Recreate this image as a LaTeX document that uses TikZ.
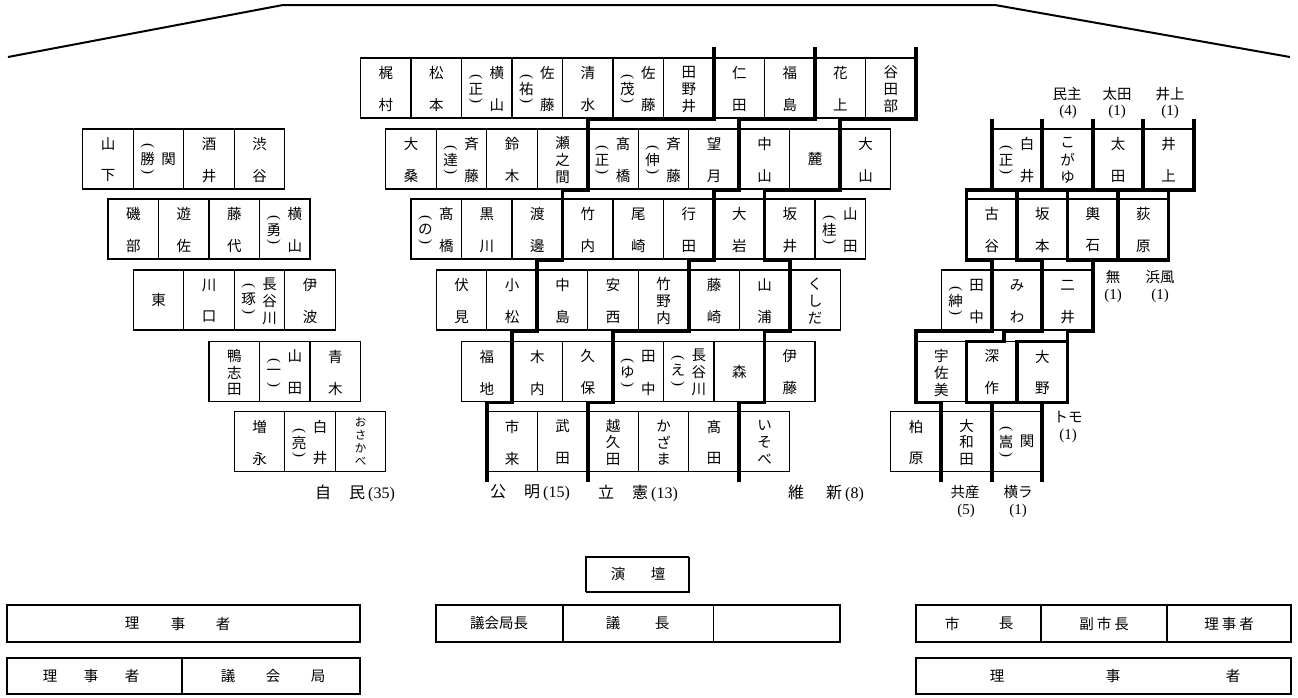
\documentclass[tikz,border=0pt]{standalone}
\usepackage{fontspec}
\setmainfont{Liberation Serif}
\newfontfamily\jpfont{Noto Sans CJK JP}
\newcommand\kx[1]{360.5+25.25*(#1)}
\newcommand\yA{58}\newcommand\yB{129}\newcommand\yC{199}\newcommand\yD{270}\newcommand\yE{341.5}\newcommand\yF{411.5}
\newcommand\gA{119}\newcommand\gB{190}\newcommand\gC{260}\newcommand\gD{331}\newcommand\gE{402.5}
\tikzset{
 seatbox/.style={draw,line width=1.3pt,minimum width=50.5pt,minimum height=60pt,inner sep=0pt,outer sep=0pt},
 jp/.style={font=\jpfont\fontsize{14.5}{14.5}\selectfont,inner sep=0pt},
 jps/.style={font=\jpfont\fontsize{11.5}{11.5}\selectfont,inner sep=0pt},
 vparen/.style={font=\fontsize{15}{15}\selectfont,inner sep=0pt,rotate=-90},
 grp/.style={line width=3.8pt,line join=miter},
 lab/.style={font=\fontsize{15}{15}\selectfont,inner sep=0pt},
 jlab/.style={font=\jpfont\fontsize{14.5}{14.5}\selectfont,inner sep=0pt},
 plab/.style={font=\fontsize{16}{16}\selectfont,inner sep=0pt},
 boxl/.style={draw,line width=1.4pt}
}
\newcommand\seatat[3]{\node[seatbox] (#1) at ({\kx{#3}+25.25},{#2+30}) {};}
\newcommand\jtx[5]{\node[jp] (#1) at ([xshift=#3pt,yshift=-#4pt]#2.north) {#5};}
\newcommand\jsm[5]{\node[jps] (#1) at ([xshift=#3pt,yshift=-#4pt]#2.north) {#5};}
\newcommand\jvp[5]{\node[vparen] (#1) at ([xshift=#3pt,yshift=-#4pt]#2.north) {#5};}
\newcommand\stA[4]{\seatat{#1}{#2}{#3}\jtx{#1a}{#1}{0}{30}{#4}}
\newcommand\stB[5]{\seatat{#1}{#2}{#3}\jtx{#1a}{#1}{0}{15}{#4}\jtx{#1b}{#1}{0}{47}{#5}}
\newcommand\stC[6]{\seatat{#1}{#2}{#3}\jtx{#1a}{#1}{0}{14}{#4}\jtx{#1b}{#1}{0}{31}{#5}\jtx{#1c}{#1}{0}{48}{#6}}
\newcommand\stP[6]{\seatat{#1}{#2}{#3}\jtx{#1a}{#1}{10}{15}{#4}\jtx{#1b}{#1}{10}{47}{#5}\jtx{#1p}{#1}{-11}{31}{#6}\jvp{#1l}{#1}{-11}{19}{(}\jvp{#1r}{#1}{-11}{43}{)}}
\newcommand\stQ[7]{\seatat{#1}{#2}{#3}\jtx{#1a}{#1}{10}{14}{#4}\jtx{#1b}{#1}{10}{31}{#5}\jtx{#1c}{#1}{10}{48}{#6}\jtx{#1p}{#1}{-11}{29}{#7}\jvp{#1l}{#1}{-11}{16}{(}\jvp{#1r}{#1}{-11}{42}{)}}
\newcommand\stR[5]{\seatat{#1}{#2}{#3}\jtx{#1a}{#1}{10}{30}{#4}\jtx{#1p}{#1}{-11}{30}{#5}\jvp{#1l}{#1}{-11}{17}{(}\jvp{#1r}{#1}{-11}{43}{)}}
\newcommand\stD[7]{\seatat{#1}{#2}{#3}\jsm{#1a}{#1}{0}{11}{#4}\jsm{#1b}{#1}{0}{24}{#5}\jsm{#1c}{#1}{0}{37}{#6}\jsm{#1d}{#1}{0}{50}{#7}}
\begin{document}
\begin{tikzpicture}[x=1pt,y=-1pt]
\useasboundingbox (0,0) rectangle (1298,697);
% roof
\draw[line width=2pt] (8,57) -- (283,5) -- (995,5) -- (1290,57);
% ---- centre row 1
\stB{c11}{\yA}{0}{梶}{村}
\stB{c12}{\yA}{2}{松}{本}
\stP{c13}{\yA}{4}{横}{山}{正}
\stP{c14}{\yA}{6}{佐}{藤}{祐}
\stB{c15}{\yA}{8}{清}{水}
\stP{c16}{\yA}{10}{佐}{藤}{茂}
\stC{c17}{\yA}{12}{田}{野}{井}
\stB{c18}{\yA}{14}{仁}{田}
\stB{c19}{\yA}{16}{福}{島}
\stB{c1a}{\yA}{18}{花}{上}
\stC{c1b}{\yA}{20}{谷}{田}{部}
% row 2
\stB{c21}{\yB}{1}{大}{桑}
\stP{c22}{\yB}{3}{斉}{藤}{達}
\stB{c23}{\yB}{5}{鈴}{木}
\stC{c24}{\yB}{7}{瀬}{之}{間}
\stP{c25}{\yB}{9}{髙}{橋}{正}
\stP{c26}{\yB}{11}{斉}{藤}{伸}
\stB{c27}{\yB}{13}{望}{月}
\stB{c28}{\yB}{15}{中}{山}
\stA{c29}{\yB}{17}{麓}
\stB{c2a}{\yB}{19}{大}{山}
% row 3
\stP{c31}{\yC}{2}{髙}{橋}{の}
\stB{c32}{\yC}{4}{黒}{川}
\stB{c33}{\yC}{6}{渡}{邊}
\stB{c34}{\yC}{8}{竹}{内}
\stB{c35}{\yC}{10}{尾}{崎}
\stB{c36}{\yC}{12}{行}{田}
\stB{c37}{\yC}{14}{大}{岩}
\stB{c38}{\yC}{16}{坂}{井}
\stP{c39}{\yC}{18}{山}{田}{桂}
% row 4
\stB{c41}{\yD}{3}{伏}{見}
\stB{c42}{\yD}{5}{小}{松}
\stB{c43}{\yD}{7}{中}{島}
\stB{c44}{\yD}{9}{安}{西}
\stC{c45}{\yD}{11}{竹}{野}{内}
\stB{c46}{\yD}{13}{藤}{崎}
\stB{c47}{\yD}{15}{山}{浦}
\stC{c48}{\yD}{17}{く}{し}{だ}
% row 5
\stB{c51}{\yE}{4}{福}{地}
\stB{c52}{\yE}{6}{木}{内}
\stB{c53}{\yE}{8}{久}{保}
\stP{c54}{\yE}{10}{田}{中}{ゆ}
\stQ{c55}{\yE}{12}{長}{谷}{川}{え}
\stA{c56}{\yE}{14}{森}
\stB{c57}{\yE}{16}{伊}{藤}
% row 6
\stB{c61}{\yF}{5}{市}{来}
\stB{c62}{\yF}{7}{武}{田}
\stC{c63}{\yF}{9}{越}{久}{田}
\stC{c64}{\yF}{11}{か}{ざ}{ま}
\stB{c65}{\yF}{13}{髙}{田}
\stC{c66}{\yF}{15}{い}{そ}{べ}
% ---- left block
\stB{l11}{\yB}{-11}{山}{下}
\stR{l12}{\yB}{-9}{関}{勝}
\stB{l13}{\yB}{-7}{酒}{井}
\stB{l14}{\yB}{-5}{渋}{谷}
\stB{l21}{\yC}{-10}{磯}{部}
\stB{l22}{\yC}{-8}{遊}{佐}
\stB{l23}{\yC}{-6}{藤}{代}
\stP{l24}{\yC}{-4}{横}{山}{勇}
\stA{l31}{\yD}{-9}{東}
\stB{l32}{\yD}{-7}{川}{口}
\stQ{l33}{\yD}{-5}{長}{谷}{川}{琢}
\stB{l34}{\yD}{-3}{伊}{波}
\stC{l41}{\yE}{-6}{鴨}{志}{田}
\stP{l42}{\yE}{-4}{山}{田}{一}
\stB{l43}{\yE}{-2}{青}{木}
\stB{l51}{\yF}{-5}{増}{永}
\stP{l52}{\yF}{-3}{白}{井}{亮}
\stD{l53}{\yF}{-1}{お}{さ}{か}{べ}
% ---- right block
\stP{r11}{\yB}{25}{白}{井}{正}
\stC{r12}{\yB}{27}{こ}{が}{ゆ}
\stB{r13}{\yB}{29}{太}{田}
\stB{r14}{\yB}{31}{井}{上}
\stB{r21}{\yC}{24}{古}{谷}
\stB{r22}{\yC}{26}{坂}{本}
\stB{r23}{\yC}{28}{輿}{石}
\stB{r24}{\yC}{30}{荻}{原}
\stP{r31}{\yD}{23}{田}{中}{紳}
\stB{r32}{\yD}{25}{み}{わ}
\stB{r33}{\yD}{27}{二}{井}
\stC{r41}{\yE}{22}{宇}{佐}{美}
\stB{r42}{\yE}{24}{深}{作}
\stB{r43}{\yE}{26}{大}{野}
\stB{r51}{\yF}{21}{柏}{原}
\stC{r52}{\yF}{23}{大}{和}{田}
\stR{r53}{\yF}{25}{関}{嵩}
% ---- group boundaries, centre
\draw[grp] ({\kx{14}},47) -- ({\kx{14}},\gA) -- ({\kx{9}},\gA) -- ({\kx{9}},\gB) -- ({\kx{8}},\gB) -- ({\kx{8}},\gC) -- ({\kx{7}},\gC) -- ({\kx{7}},\gD) -- ({\kx{6}},\gD) -- ({\kx{6}},\gE) -- ({\kx{5}},\gE) -- ({\kx{5}},482);
\draw[grp] ({\kx{18}},47) -- ({\kx{18}},\gA) -- ({\kx{15}},\gA) -- ({\kx{15}},\gB) -- ({\kx{14}},\gB) -- ({\kx{14}},\gC) -- ({\kx{13}},\gC) -- ({\kx{13}},\gD) -- ({\kx{10}},\gD) -- ({\kx{10}},\gE) -- ({\kx{9}},\gE) -- ({\kx{9}},482);
\draw[grp] ({\kx{22}},47) -- ({\kx{22}},\gA) -- ({\kx{19}},\gA) -- ({\kx{19}},\gB) -- ({\kx{16}},\gB) -- ({\kx{16}},\gC) -- ({\kx{17}},\gC) -- ({\kx{17}},\gD) -- ({\kx{16}},\gD) -- ({\kx{16}},\gE) -- ({\kx{15}},\gE) -- ({\kx{15}},482);
% ---- group boundaries, right
\draw[grp] ({\kx{25}},119) -- ({\kx{25}},\gB) -- ({\kx{24}},\gB) -- ({\kx{24}},\gC) -- ({\kx{25}},\gC) -- ({\kx{25}},\gD) -- ({\kx{22}},\gD) -- ({\kx{22}},\gE) -- ({\kx{23}},\gE) -- ({\kx{23}},482);
\draw[grp] ({\kx{27}},119) -- ({\kx{27}},\gB) -- ({\kx{26}},\gB) -- ({\kx{26}},\gC) -- ({\kx{27}},\gC) -- ({\kx{27}},\gD) -- ({\kx{25.5}},\gD) -- ({\kx{25.5}},\yE) -- ({\kx{24}},\yE) -- ({\kx{24}},\gE) -- ({\kx{25}},\gE) -- ({\kx{25}},482);
\draw[grp] ({\kx{29}},119) -- ({\kx{29}},\gB) -- ({\kx{28}},\gB) -- ({\kx{28}},\gC) -- ({\kx{29}},\gC) -- ({\kx{29}},\gD) -- ({\kx{28}},\gD) -- ({\kx{28}},\gE) -- ({\kx{27}},\gE) -- ({\kx{27}},482);
\draw[grp] ({\kx{28}},\yE) -- ({\kx{26}},\yE) -- ({\kx{26}},\gE);
\draw[grp] ({\kx{25}},\gE) -- ({\kx{27}},\gE);
\draw[grp] ({\kx{31}},119) -- ({\kx{31}},\gB);
\draw[grp] ({\kx{24}},\gB) -- ({\kx{33}},\gB);
\draw[grp] ({\kx{33}},119) -- ({\kx{33}},\gB) -- ({\kx{32}},\gB) -- ({\kx{32}},\gC) -- ({\kx{29}},\gC);
\draw[grp] ({\kx{30}},\gB) -- ({\kx{30}},\gC);
% ---- party labels
\node[plab] (pjimin) at (355,493) {{\jpfont 自\hspace{18pt}民}\hspace{3pt}(35)};
\node[plab] (pkomei) at (530,493) {{\jpfont 公\hspace{18pt}明}\hspace{3pt}(15)};
\node[plab] (pkenp) at (638,493) {{\jpfont 立\hspace{18pt}憲}\hspace{3pt}(13)};
\node[plab] (pishin) at (826,493) {{\jpfont 維\hspace{22pt}新}\hspace{3pt}(8)};
\node[jlab] (pminshu) at (1067,94) {民主};
\node[lab] (pminshun) at (1068,112) {(4)};
\node[jlab] (pota) at (1117,94) {太田};
\node[lab] (potan) at (1117,112) {(1)};
\node[jlab] (pinoue) at (1170,94) {井上};
\node[lab] (pinouen) at (1170,112) {(1)};
\node[jlab] (pmu) at (1113,277) {無};
\node[lab] (pmun) at (1113,296) {(1)};
\node[jlab] (phama) at (1160,277) {浜風};
\node[lab] (phaman) at (1160,296) {(1)};
\node[jlab] (ptomo) at (1068,417) {トモ};
\node[lab] (ptomon) at (1068,436) {(1)};
\node[jlab] (pkyo) at (965,492) {共産};
\node[lab] (pkyon) at (966,511) {(5)};
\node[jlab] (pyoko) at (1018,492) {横ラ};
\node[lab] (pyokon) at (1018,511) {(1)};
% ---- front
\draw[line width=1.2pt] (586,592) -- (586,557) -- (689,557);
\draw[line width=2.2pt] (689,557) -- (689,592) -- (585.5,592);
\node[jlab] (en1) at (618,574) {演};
\node[jlab] (en2) at (658,574) {壇};
\draw[boxl] (7,605) rectangle (360,642);
\node[jlab] (ra1) at (132,623.5) {理};
\node[jlab] (ra2) at (178,623.5) {事};
\node[jlab] (ra3) at (223,623.5) {者};
\draw[boxl] (7,658) rectangle (360,694);
\draw[boxl] (182,658) -- (182,694);
\node[jlab] (rb1) at (50,676) {理};
\node[jlab] (rb2) at (91,676) {事};
\node[jlab] (rb3) at (132,676) {者};
\node[jlab] (rb4) at (228,676) {議};
\node[jlab] (rb5) at (273,676) {会};
\node[jlab] (rb6) at (318,676) {局};
\draw[boxl] (436,605) rectangle (840,642);
\draw[boxl] (563,605) -- (563,642);
\draw[boxl] (713.5,605) -- (713.5,642);
\node[jlab] (gk1) at (499,623.5) {議会局長};
\node[jlab] (gk2) at (613,623.5) {議};
\node[jlab] (gk3) at (662,623.5) {長};
\draw[boxl] (916,605) rectangle (1291,642);
\draw[boxl] (1041,605) -- (1041,642);
\draw[boxl] (1167,605) -- (1167,642);
\node[jlab] (sc1) at (952,623.5) {市};
\node[jlab] (sc2) at (1006,623.5) {長};
\node[jlab] (sc3) at (1104,623.5) {副\hspace{3pt}市\hspace{3pt}長};
\node[jlab] (sc4) at (1229,623.5) {理\hspace{3pt}事\hspace{3pt}者};
\draw[boxl] (916,658) rectangle (1291,694);
\node[jlab] (rc1) at (997,676) {理};
\node[jlab] (rc2) at (1113,676) {事};
\node[jlab] (rc3) at (1233,676) {者};
\end{tikzpicture}
\end{document}
